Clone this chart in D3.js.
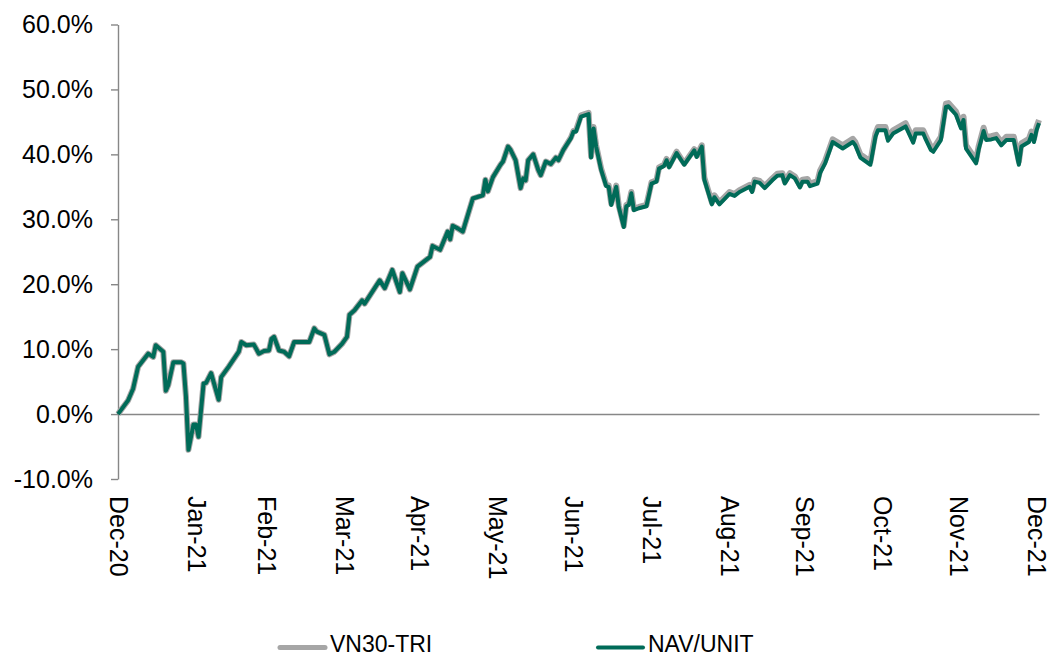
<!DOCTYPE html>
<html>
<head>
<meta charset="utf-8">
<script src="https://cdn.jsdelivr.net/npm/d3@7"></script>
<style>
  body { margin: 0; background: #fff; }
  text { font-family: Arial, "Liberation Sans", sans-serif; fill: #000; }
</style>
</head>
<body>
<div id="chart"></div>
<script>
// trading dates
var dates = [
  "2020-12-31","2021-01-04","2021-01-06","2021-01-08","2021-01-10","2021-01-12","2021-01-14","2021-01-15","2021-01-18","2021-01-19",
  "2021-01-20","2021-01-22","2021-01-25","2021-01-26","2021-01-27","2021-01-28","2021-01-30","2021-01-31","2021-02-01","2021-02-03",
  "2021-02-04","2021-02-06","2021-02-09","2021-02-10","2021-02-13","2021-02-17","2021-02-18","2021-02-20","2021-02-23","2021-02-25",
  "2021-02-27","2021-03-01","2021-03-02","2021-03-03","2021-03-05","2021-03-07","2021-03-09","2021-03-11","2021-03-16","2021-03-17",
  "2021-03-19","2021-03-20","2021-03-23","2021-03-25","2021-03-27","2021-03-30","2021-04-01","2021-04-02","2021-04-04","2021-04-07",
  "2021-04-08","2021-04-12","2021-04-14","2021-04-16","2021-04-19","2021-04-22","2021-04-23","2021-04-26","2021-04-29","2021-05-04",
  "2021-05-05","2021-05-08","2021-05-11","2021-05-12","2021-05-13","2021-05-15","2021-05-17","2021-05-21","2021-05-25","2021-05-26",
  "2021-05-27","2021-05-29","2021-06-01","2021-06-02","2021-06-04","2021-06-05","2021-06-07","2021-06-09","2021-06-10","2021-06-11",
  "2021-06-12","2021-06-14","2021-06-16","2021-06-17","2021-06-19","2021-06-21","2021-06-23","2021-06-24","2021-06-26","2021-06-29",
  "2021-06-30","2021-07-01","2021-07-03","2021-07-06","2021-07-07","2021-07-08","2021-07-09","2021-07-11","2021-07-13","2021-07-14",
  "2021-07-15","2021-07-17","2021-07-18","2021-07-20","2021-07-21","2021-07-22","2021-07-23","2021-07-24","2021-07-26","2021-07-29",
  "2021-07-31","2021-08-02","2021-08-03","2021-08-05","2021-08-06","2021-08-07","2021-08-10","2021-08-13","2021-08-17","2021-08-18",
  "2021-08-20","2021-08-21","2021-08-24","2021-08-25","2021-08-27","2021-08-31","2021-09-02","2021-09-04","2021-09-08","2021-09-09",
  "2021-09-10","2021-09-12","2021-09-14","2021-09-17","2021-09-19","2021-09-21","2021-09-22","2021-09-24","2021-09-26","2021-09-28",
  "2021-09-29","2021-10-01","2021-10-02","2021-10-05","2021-10-06","2021-10-08","2021-10-11","2021-10-15","2021-10-19","2021-10-20",
  "2021-10-22","2021-10-26","2021-10-28","2021-10-29","2021-11-01","2021-11-02","2021-11-04","2021-11-09","2021-11-12","2021-11-13",
  "2021-11-16","2021-11-17","2021-11-19","2021-11-20","2021-11-23","2021-11-25","2021-11-26","2021-11-29","2021-12-01","2021-12-02",
  "2021-12-03","2021-12-07","2021-12-08","2021-12-10","2021-12-11","2021-12-13","2021-12-15","2021-12-17","2021-12-19","2021-12-22",
  "2021-12-24","2021-12-25","2021-12-28","2021-12-29","2021-12-30","2021-12-31","2022-01-01"
];

// VN30-TRI return (%)
var vn30Tri = [
  0.0, 2.1, 3.9, 7.3, 8.3, 9.3, 8.8, 10.6, 9.6, 3.6,
  4.5, 8.0, 8.0, 7.8, 2.7, -5.5, -1.6, -1.6, -3.5, 4.7,
  4.8, 6.3, 2.2, 5.7, 7.3, 9.6, 11.1, 10.6, 10.7, 9.3,
  9.7, 9.8, 11.6, 11.9, 9.8, 9.6, 8.9, 11.1, 11.1, 11.1,
  13.2, 12.7, 12.2, 9.2, 9.6, 10.8, 11.9, 15.3, 16.0, 17.5,
  17.0, 19.4, 20.6, 19.4, 22.2, 18.8, 21.7, 19.2, 22.7, 24.2,
  25.9, 25.3, 28.1, 26.9, 29.0, 28.6, 28.1, 33.2, 33.7, 36.1,
  34.3, 36.5, 38.4, 38.9, 41.2, 40.7, 39.1, 34.8, 36.3, 36.0,
  39.1, 40.0, 37.6, 36.8, 38.9, 38.5, 39.5, 39.1, 40.7, 42.6,
  43.6, 43.7, 46.0, 46.4, 39.7, 44.2, 41.4, 37.8, 35.3, 35.2,
  32.4, 35.2, 32.1, 29.0, 32.2, 32.4, 34.2, 31.6, 31.9, 32.2,
  35.7, 36.0, 38.0, 38.4, 39.3, 38.2, 40.4, 38.6, 40.8, 39.8,
  41.4, 36.4, 32.6, 33.7, 32.6, 34.2, 33.9, 34.5, 35.3, 34.5,
  36.1, 35.9, 35.1, 36.3, 37.0, 37.1, 35.8, 37.1, 36.6, 35.2,
  36.1, 36.2, 35.5, 35.9, 37.5, 39.0, 42.3, 41.4, 42.4, 41.9,
  40.0, 38.9, 43.2, 44.2, 44.2, 42.6, 43.7, 44.8, 42.3, 43.7,
  43.7, 42.8, 41.2, 40.9, 42.7, 47.8, 47.9, 46.6, 44.5, 45.8,
  41.4, 39.1, 41.2, 44.1, 42.7, 42.8, 43.0, 41.9, 42.7, 42.7,
  38.9, 41.7, 42.4, 43.5, 42.4, 44.2, 45.3
];

// NAV/UNIT return (%)
var navUnit = [
  0.0, 2.1, 3.9, 7.3, 8.3, 9.3, 8.8, 10.6, 9.6, 3.6,
  4.5, 8.0, 8.0, 7.8, 2.7, -5.5, -1.6, -1.6, -3.5, 4.7,
  4.8, 6.3, 2.2, 5.7, 7.3, 9.6, 11.1, 10.6, 10.7, 9.3,
  9.7, 9.8, 11.6, 11.9, 9.8, 9.6, 8.9, 11.1, 11.1, 11.1,
  13.2, 12.7, 12.2, 9.2, 9.6, 10.8, 11.9, 15.3, 16.0, 17.5,
  17.0, 19.4, 20.6, 19.4, 22.2, 18.8, 21.7, 19.2, 22.7, 24.2,
  25.9, 25.3, 28.1, 26.9, 29.0, 28.6, 28.1, 33.2, 33.7, 36.1,
  34.3, 36.5, 38.4, 38.9, 41.2, 40.7, 39.1, 34.8, 36.3, 36.0,
  39.1, 40.0, 37.6, 36.8, 38.9, 38.5, 39.5, 39.1, 40.7, 42.5,
  43.5, 43.5, 45.8, 46.2, 39.5, 44.0, 41.2, 37.6, 35.1, 35.0,
  32.2, 35.0, 31.9, 28.8, 32.0, 32.2, 34.0, 31.4, 31.7, 32.0,
  35.5, 35.8, 37.8, 38.2, 39.1, 38.0, 40.2, 38.4, 40.6, 39.6,
  41.2, 36.1, 32.3, 33.4, 32.3, 33.9, 33.6, 34.2, 35.0, 34.2,
  35.8, 35.6, 34.8, 36.0, 36.7, 36.8, 35.5, 36.8, 36.3, 34.9,
  35.8, 35.8, 35.1, 35.5, 37.1, 38.6, 41.9, 40.9, 41.9, 41.4,
  39.5, 38.4, 42.7, 43.7, 43.7, 42.1, 43.2, 44.3, 41.8, 43.2,
  43.2, 42.3, 40.7, 40.4, 42.2, 47.3, 47.4, 46.1, 44.0, 45.3,
  40.9, 38.6, 40.7, 43.6, 42.2, 42.3, 42.5, 41.4, 42.2, 42.2,
  38.4, 41.2, 41.9, 43.0, 41.9, 43.7, 44.8
];

// axis ticks
var monthTicks = ["2020-12-31","2021-01-31","2021-02-28","2021-03-31","2021-04-30","2021-05-31",
                  "2021-06-30","2021-07-31","2021-08-31","2021-09-30","2021-10-31","2021-11-30","2021-12-31"];
var yTicks = [-10, 0, 10, 20, 30, 40, 50, 60];

var seriesNames = ["VN30-TRI", "NAV/UNIT"];
var seriesColors = ["#a6a6a6", "#006b58"];
var seriesWidths = [6, 4];

// set the dimensions and margins of the graph
var margin = {top: 24.5, right: 14, bottom: 177, left: 118},
    width = 1053 - margin.left - margin.right,
    height = 656 - margin.top - margin.bottom;

var svg = d3.select("#chart")
  .append("svg")
    .attr("width", 1053)
    .attr("height", 656)
  .append("g")
    .attr("transform", "translate(" + margin.left + "," + margin.top + ")");

var parseDate = d3.timeParse("%Y-%m-%d");
var fmtMonth = d3.timeFormat("%b-%y");

var data = dates.map(function(d, i) {
  return {date: parseDate(d), vn30: vn30Tri[i], nav: navUnit[i]};
});

// X scale (calendar days)
var x = d3.scaleTime()
  .domain([parseDate("2020-12-31"), parseDate("2022-01-01")])
  .range([0, width]);

// Y scale
var y = d3.scaleLinear()
  .domain([-10, 60])
  .range([height, 0]);

var axisColor = "#878787";

// Y axis
var yAxis = svg.append("g")
  .call(d3.axisLeft(y)
    .tickValues(yTicks)
    .tickSize(7)
    .tickSizeOuter(0)
    .tickPadding(18)
    .tickFormat(function(d) { return d.toFixed(1) + "%"; }));
yAxis.selectAll("path, line").attr("stroke", axisColor).attr("stroke-width", 1.4);
yAxis.selectAll("text").style("font-size", "25px").attr("fill", "#000");

// zero line (horizontal axis crossing at 0)
var xLine = svg.append("g")
  .attr("transform", "translate(0," + y(0) + ")")
  .call(d3.axisBottom(x).tickValues([]).tickSize(0).tickSizeOuter(0));
xLine.select("path").attr("stroke", axisColor).attr("stroke-width", 1.4);

// month labels at the bottom, rotated
var xLabels = svg.append("g")
  .attr("transform", "translate(0," + height + ")")
  .call(d3.axisBottom(x)
    .tickValues(monthTicks.map(parseDate))
    .tickSize(0)
    .tickFormat(fmtMonth));
xLabels.select(".domain").remove();
xLabels.selectAll("text")
  .attr("y", 0)
  .attr("x", 17)
  .attr("dy", "0.36em")
  .attr("transform", "rotate(90)")
  .style("text-anchor", "start")
  .style("font-size", "25px")
  .attr("fill", "#000");

// lines
var lineVn30 = d3.line()
  .x(function(d) { return x(d.date); })
  .y(function(d) { return y(d.vn30); });
var lineNav = d3.line()
  .x(function(d) { return x(d.date); })
  .y(function(d) { return y(d.nav); });

svg.append("path")
  .datum(data)
  .attr("fill", "none")
  .attr("stroke", seriesColors[0])
  .attr("stroke-width", seriesWidths[0])
  .attr("stroke-linejoin", "round")
  .attr("d", lineVn30);

svg.append("path")
  .datum(data)
  .attr("fill", "none")
  .attr("stroke", seriesColors[1])
  .attr("stroke-width", seriesWidths[1])
  .attr("stroke-linejoin", "round")
  .attr("d", lineNav);

// legend
var legendX = [280, 598];
var legend = d3.select("#chart svg").append("g");
seriesNames.forEach(function(name, i) {
  legend.append("line")
    .attr("x1", legendX[i]).attr("x2", legendX[i] + 45)
    .attr("y1", 647.5).attr("y2", 647.5)
    .attr("stroke", seriesColors[i])
    .attr("stroke-width", i == 0 ? 5 : 4)
    .attr("stroke-linecap", "round");
  legend.append("text")
    .attr("x", legendX[i] + 50)
    .attr("y", 652)
    .style("font-size", "23px")
    .text(name);
});
</script>
</body>
</html>
